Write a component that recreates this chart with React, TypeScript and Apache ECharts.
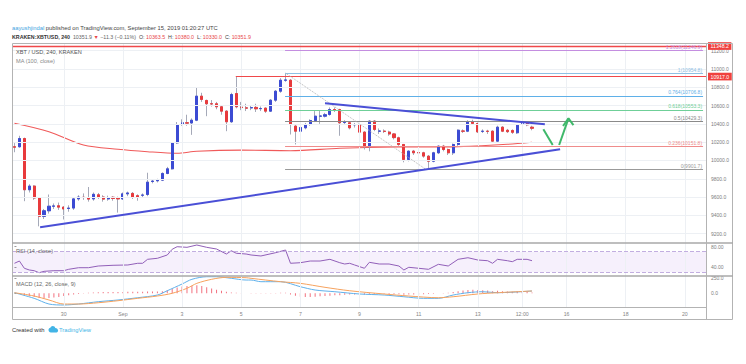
import React, { useEffect, useRef } from 'react';
import * as echarts from 'echarts';

// ---------------- data ----------------
const BAR_COUNT = 141;
const TIME_IDX = [10, 22, 34, 46, 58, 70, 82, 94, 103, 112, 124, 136];
const TIME_TEXT = ['30', 'Sep', '3', '5', '7', '9', '11', '13', '12:00', '16', '18', '20'];
const PRICE_TICKS = [9200, 9400, 9600, 9800, 10000, 10200, 10400, 10600, 10800, 11000, 11200];
const RSI_TICKS = [80, 40];
const MACD_TICKS = [250, 0];
const PRICE_RANGE = [9098, 11284];
const RSI_RANGE = [22.8, 86.9];
const MACD_RANGE = [-240, 283];

// [open, close, low, high] per 4h bar
const CANDLES: number[][] = [
  [10150, 10145, 10090, 10190], [10150, 10240, 10140, 10270], [10240, 9680, 9555, 10250], [9680, 9720, 9650, 9740],
  [9720, 9590, 9570, 9730], [9590, 9390, 9280, 9600], [9390, 9450, 9360, 9470], [9450, 9500, 9420, 9628],
  [9500, 9503, 9470, 9530], [9505, 9490, 9460, 9540], [9490, 9470, 9355, 9500], [9475, 9480, 9440, 9510],
  [9480, 9580, 9460, 9600], [9580, 9600, 9560, 9620], [9598, 9595, 9570, 9640], [9595, 9578, 9550, 9710],
  [9580, 9630, 9560, 9650], [9625, 9600, 9580, 9645], [9600, 9578, 9550, 9620], [9580, 9595, 9560, 9615],
  [9598, 9585, 9560, 9610], [9592, 9580, 9430, 9605], [9580, 9635, 9570, 9650], [9635, 9645, 9610, 9660],
  [9640, 9600, 9580, 9655], [9615, 9600, 9560, 9630], [9620, 9622, 9600, 9640], [9628, 9763, 9610, 9866],
  [9770, 9775, 9750, 9790], [9778, 9785, 9760, 9800], [9785, 9858, 9775, 9870], [9858, 9909, 9850, 9930],
  [9909, 10193, 9900, 10200], [10193, 10393, 10180, 10420], [10400, 10412, 10380, 10450], [10412, 10408, 10380, 10500],
  [10410, 10440, 10280, 10460], [10440, 10703, 10430, 10795], [10703, 10667, 10640, 10740], [10656, 10620, 10484, 10665],
  [10620, 10618, 10590, 10660], [10620, 10587, 10560, 10640], [10587, 10539, 10500, 10600], [10539, 10423, 10320, 10550],
  [10423, 10721, 10410, 10740], [10732, 10587, 10570, 10917], [10583, 10578, 10550, 10640], [10575, 10572, 10540, 10620],
  [10575, 10578, 10550, 10600], [10580, 10565, 10530, 10620], [10566, 10568, 10540, 10590], [10572, 10539, 10520, 10580],
  [10539, 10659, 10530, 10670], [10659, 10757, 10640, 10770], [10757, 10877, 10740, 10900], [10877, 10880, 10860, 10954.8],
  [10877, 10393, 10284, 10890], [10375, 10320, 10175, 10390], [10320, 10360, 10300, 10380], [10357, 10393, 10340, 10410],
  [10393, 10437, 10380, 10450], [10437, 10484, 10420, 10540], [10484, 10486, 10400, 10540], [10484, 10500, 10470, 10520],
  [10503, 10557, 10490, 10580], [10557, 10555, 10530, 10580], [10557, 10412, 10270, 10565], [10415, 10418, 10390, 10440],
  [10412, 10357, 10340, 10425], [10390, 10393, 10360, 10410], [10393, 10310, 10290, 10400], [10310, 10150, 10120, 10320],
  [10150, 10430, 10100, 10440], [10430, 10339, 10320, 10440], [10320, 10322, 10290, 10350], [10320, 10318, 10300, 10340],
  [10310, 10290, 10270, 10325], [10290, 10250, 10230, 10300], [10248, 10175, 10160, 10260], [10175, 10011, 9980, 10180],
  [10011, 10102, 9990, 10110], [10102, 10084, 10060, 10115], [10086, 10084, 9956, 10100], [10084, 10048, 10030, 10095],
  [10047, 9992, 9901.7, 10060], [9992, 10084, 9980, 10095], [10084, 10156, 10070, 10165], [10156, 10120, 10100, 10170],
  [10120, 10084, 10060, 10130], [10084, 10175, 10060, 10185], [10175, 10331, 10160, 10340], [10322, 10320, 10300, 10340],
  [10320, 10423, 10310, 10440], [10423, 10405, 10390, 10445], [10404, 10313, 10300, 10415], [10318, 10320, 10300, 10340],
  [10320, 10318, 10290, 10335], [10320, 10211, 10200, 10330], [10211, 10364, 10200, 10380], [10364, 10320, 10310, 10375],
  [10330, 10315, 10300, 10345], [10328, 10308, 10290, 10340], [10303, 10386, 10290, 10395], [10405, 10408, 10390, 10425],
  [10408, 10390, 10375, 10415], [10363.5, 10351.9, 10330, 10380],
];

const MA100: number[][] = [
  [0, 10407], [7, 10315], [14, 10169], [21, 10122], [27, 10096], [33, 10079], [37, 10101], [46, 10113],
  [56, 10107], [66, 10133], [78, 10148], [84, 10147], [90, 10151], [100, 10177], [105, 10199],
];

const RSI: number[][] = [
  [0, 47.5], [1, 51.9], [2, 37.8], [3, 34.5], [4, 33.1], [5, 29.2], [6, 31.9], [8, 33.1], [10, 33.1], [11, 35.8],
  [13, 38.9], [15, 38.9], [17, 42.2], [20, 43.6], [23, 44.2], [25, 47.5], [26, 47.5], [27, 55.2], [29, 57.2],
  [31, 63.6], [32, 74.7], [33, 79.7], [35, 78.5], [37, 83], [39, 78.5], [41, 75.2], [43, 65.5], [44, 71.9],
  [45, 66.9], [47, 65.5], [48, 63.6], [50, 61.7], [53, 68.1], [55, 73.3], [56, 47.5], [58, 48.6], [60, 51.9],
  [62, 51.9], [64, 55.2], [66, 48.6], [67, 46.1], [68, 47.5], [69, 44.2], [71, 37.8], [72, 49.4], [74, 46.1],
  [76, 46.1], [78, 42.2], [79, 34.5], [80, 39.7], [82, 37.8], [84, 35.8], [86, 45.5], [88, 42.2], [90, 55.2],
  [92, 58.3], [94, 53.9], [96, 52.5], [97, 47.5], [98, 55.2], [100, 52.5], [101, 50.6], [102, 55.2], [104, 55.2],
  [105, 52.5],
];

const MACD_LINE: number[][] = [
  [0, 10], [4, -82], [7, -175], [10, -191], [13, -175], [17, -137], [21, -109], [25, -72], [29, -28], [31, 42],
  [34, 152], [36, 229], [39, 271], [41, 271], [44, 245], [47, 217], [48, 217], [50, 190], [54, 190], [58, 108],
  [61, 54], [65, 26], [70, -11], [75, -28], [79, -56], [83, -82], [86, -82], [89, -28], [92, 10], [95, 26],
  [98, 10], [105, 38],
];
const MACD_SIGNAL: number[][] = [
  [0, 10], [4, -44], [7, -109], [10, -175], [13, -175], [17, -154], [21, -121], [25, -82], [29, -44], [32, 0],
  [35, 82], [37, 163], [40, 229], [43, 261], [47, 255], [48, 245], [54, 190], [58, 163], [63, 98], [68, 42],
  [75, -11], [80, -44], [86, -72], [89, -56], [94, -11], [98, 10], [105, 38],
];
const MACD_HIST: number[] = [
  0, -10, -30, -45, -60, -75, -80, -78, -70, -60, -45, -30, -20, -10,
  5, 10, 15, 18, 20, 20, 20, 20, 22, 25, 25, 25, 25, 28, 30, 30, 35,
  50, 70, 95, 110, 120, 125, 130, 120, 100, 80, 60, 40, 25, 15,
  10, 5, 0, -5, -5, 5, 5, 5, 5, 10, 10,
  -20, -40, -55, -60, -60, -55, -50, -45, -40, -30, -30,
  -25, -20, -20, -15, -20, -10, -10, -8, -8, -10, -12, -15, -22, -20, -18, -18, -15, -12, -8, 0, 5, 10,
  20, 35, 45, 55, 60, 55, 50, 45, 35, 40, 35, 30, 25, 25, 25, 20, 15,
];

// drawings (bar index, price)
const SUPPORT_LINE = [[5.2, 9270], [110.7, 10122]];
const RESIST_LINE = [[63.0, 10625], [107.6, 10396]];
const FIB_SWING = [[55, 10954.8], [83.5, 9901.7]];
const GREEN_DOWN = [[107.3, 10341], [109.2, 10169]];
const GREEN_UP = [[110.5, 10169], [112.4, 10461]];
const GREEN_HEAD = [[111.3, 10377], [112.4, 10461], [113.4, 10386]];
const FIB_RANGE = [54.9, 139.7];
const FIB_TEXT = ['1.2618(11246.9)', '1(10954.8)', '0.764(10706.8)', '0.618(10553.3)', '0.5(10429.3)', '0.236(10151.8)', '0(9901.7)'];
const FIB_PRICE = [11205, 10954.8, 10706.8, 10553.3, 10429.3, 10151.8, 9901.7];
const TOP_LINE_PRICE = 11251;
const TOP_BADGE = '11348.2';
const HIGH_LINE = [44.9, 10917];
const HIGH_BADGE = '10917.0';
const LAST_PRICE = 10351.9;
const LAST_BADGE = '10351.9';
const COUNTDOWN_PRICE = 10250;
const COUNTDOWN = '02:39:34';

// ---------------- styles ----------------
const FONT = 'Liberation Sans, Arial, sans-serif';
const UP = '#3c4bd3';
const DOWN = '#e83a3c';
const WICK = '#a5a9b8';
const GRID_LINE = '#edf0f4';
const FRAME = '#b3b3b3';
const FIB_COLORS = ['#c48ee0', '#8ec0e4', '#5fb0e8', '#6fcf98', '#8a8a8a', '#ef8c8c', '#9a9a9a'];
const BADGE_RED = '#f0403e';

function badge(text: string, bg: string) {
  return {
    show: true, position: 'end', distance: 1, formatter: text, color: '#fff', backgroundColor: bg,
    padding: [1, 2.5, 0.5, 2.5], lineHeight: 6.2, fontSize: 5.2, fontFamily: FONT,
  };
}

function buildOption() {
  const cats = Array.from({ length: BAR_COUNT }, (_, i) => String(i));
  const body = CANDLES.map(([o, c]) => [o, c, Math.min(o, c), Math.max(o, c)]);
  const vGrid = TIME_IDX.map((i) => ({ xAxis: i }));
  const hGrid = PRICE_TICKS.map((v) => ({ yAxis: v }));
  const gridMark = (data: any[]) => ({
    silent: true, symbol: 'none', animation: false, label: { show: false },
    lineStyle: { color: GRID_LINE, width: 1, type: 'solid' }, emphasis: { disabled: true }, data,
  });

  const fibMarks = FIB_TEXT.map((t, k) => [
    {
      coord: [FIB_RANGE[0], FIB_PRICE[k]],
      lineStyle: { color: FIB_COLORS[k], width: 1, type: 'solid' },
      label: { show: true, position: 'insideEndTop', formatter: t, color: FIB_COLORS[k], fontSize: 5, fontFamily: FONT, distance: 1 },
    },
    { coord: [FIB_RANGE[1], FIB_PRICE[k]] },
  ]);

  const labelIdx = (i: number) => TIME_IDX.indexOf(i) >= 0;

  return {
    animation: false,
    backgroundColor: '#ffffff',
    grid: [
      { left: 12, top: 43, width: 695, height: 200 },
      { left: 12, top: 243, width: 695, height: 33 },
      { left: 12, top: 276, width: 695, height: 32 },
    ],
    xAxis: [
      { type: 'category', gridIndex: 0, data: cats, show: false },
      { type: 'value', gridIndex: 0, min: -0.5, max: BAR_COUNT - 0.5, show: false },
      { type: 'value', gridIndex: 1, min: -0.5, max: BAR_COUNT - 0.5, show: false },
      {
        type: 'category', gridIndex: 2, data: cats, position: 'bottom',
        axisLine: { show: false },
        axisTick: { show: true, alignWithLabel: true, interval: (i: number) => labelIdx(i), length: 2, lineStyle: { color: '#999' } },
        axisLabel: {
          interval: (i: number) => labelIdx(i),
          formatter: (_v: string, i: number) => TIME_TEXT[TIME_IDX.indexOf(i)] ?? '',
          fontSize: 5.2, color: '#858585', fontFamily: FONT, margin: 3,
        },
        splitLine: { show: false },
      },
      { type: 'value', gridIndex: 2, min: -0.5, max: BAR_COUNT - 0.5, show: false },
    ],
    yAxis: [
      {
        type: 'value', gridIndex: 0, position: 'right', min: PRICE_RANGE[0], max: PRICE_RANGE[1], scale: true,
        axisLine: { show: false }, splitLine: { show: false },
        axisTick: { show: true, length: 2, customValues: PRICE_TICKS, lineStyle: { color: '#999' } },
        axisLabel: { customValues: PRICE_TICKS, formatter: (v: number) => v.toFixed(1), fontSize: 5, color: '#7d7d7d', fontFamily: FONT, margin: 4 },
      },
      {
        type: 'value', gridIndex: 1, position: 'right', min: RSI_RANGE[0], max: RSI_RANGE[1], scale: true,
        axisLine: { show: false }, splitLine: { show: false },
        axisTick: { show: true, length: 2, customValues: RSI_TICKS, lineStyle: { color: '#999' } },
        axisLabel: { customValues: RSI_TICKS, formatter: (v: number) => v.toFixed(2), fontSize: 5, color: '#7d7d7d', fontFamily: FONT, margin: 4 },
      },
      {
        type: 'value', gridIndex: 2, position: 'right', min: MACD_RANGE[0], max: MACD_RANGE[1], scale: true,
        axisLine: { show: false }, splitLine: { show: false },
        axisTick: { show: true, length: 2, customValues: MACD_TICKS, lineStyle: { color: '#999' } },
        axisLabel: { customValues: MACD_TICKS, formatter: (v: number) => v.toFixed(1), fontSize: 5, color: '#7d7d7d', fontFamily: FONT, margin: 4 },
      },
    ],
    series: [
      { type: 'line', xAxisIndex: 1, yAxisIndex: 0, data: [], z: 1, silent: true, markLine: gridMark([...vGrid, ...hGrid]) },
      { type: 'line', xAxisIndex: 2, yAxisIndex: 1, data: [], z: 1, silent: true, markLine: gridMark(vGrid) },
      { type: 'line', xAxisIndex: 4, yAxisIndex: 2, data: [], z: 1, silent: true, markLine: gridMark(vGrid) },
      // MA 100
      {
        type: 'line', xAxisIndex: 1, yAxisIndex: 0, data: MA100, smooth: 0.3, symbol: 'none', silent: true, z: 2,
        lineStyle: { color: '#f05a5a', width: 1.1 },
      },
      // fib + horizontal lines + badges
      {
        type: 'line', xAxisIndex: 1, yAxisIndex: 0, data: [], z: 2, silent: true,
        markLine: {
          silent: true, symbol: 'none', animation: false, emphasis: { disabled: true },
          data: [
            ...fibMarks,
            { yAxis: TOP_LINE_PRICE, lineStyle: { color: '#f0484a', width: 1.4, type: 'solid' }, label: badge(TOP_BADGE, BADGE_RED) },
            [
              { coord: [HIGH_LINE[0], HIGH_LINE[1]], lineStyle: { color: '#f0484a', width: 1.2, type: 'solid' }, label: badge(HIGH_BADGE, BADGE_RED) },
              { coord: [BAR_COUNT - 0.5, HIGH_LINE[1]] },
            ],
            { yAxis: LAST_PRICE, lineStyle: { opacity: 0 }, label: badge(LAST_BADGE, BADGE_RED) },
            { yAxis: COUNTDOWN_PRICE, lineStyle: { opacity: 0 }, label: badge(COUNTDOWN, '#e2463f') },
          ],
        },
      },
      // candles: wicks then bodies
      {
        type: 'candlestick', xAxisIndex: 0, yAxisIndex: 0, data: CANDLES, barWidth: 2.6, silent: true, z: 3,
        itemStyle: { color: 'rgba(0,0,0,0)', color0: 'rgba(0,0,0,0)', borderColor: WICK, borderColor0: WICK, borderWidth: 1 },
      },
      {
        type: 'candlestick', xAxisIndex: 0, yAxisIndex: 0, data: body, barWidth: 2.6, silent: true, z: 4,
        itemStyle: { color: UP, color0: DOWN, borderColor: UP, borderColor0: DOWN, borderWidth: 1 },
      },
      // drawings
      { type: 'line', xAxisIndex: 1, yAxisIndex: 0, data: FIB_SWING, symbol: 'none', silent: true, z: 5, lineStyle: { color: '#b5b5b5', width: 1, type: 'dotted' } },
      { type: 'line', xAxisIndex: 1, yAxisIndex: 0, data: SUPPORT_LINE, symbol: 'none', silent: true, z: 6, lineStyle: { color: '#4a4fd6', width: 2 } },
      { type: 'line', xAxisIndex: 1, yAxisIndex: 0, data: RESIST_LINE, symbol: 'none', silent: true, z: 6, lineStyle: { color: '#4a4fd6', width: 2 } },
      { type: 'line', xAxisIndex: 1, yAxisIndex: 0, data: GREEN_DOWN, symbol: 'none', silent: true, z: 6, lineStyle: { color: '#3fb86a', width: 2 } },
      { type: 'line', xAxisIndex: 1, yAxisIndex: 0, data: GREEN_UP, symbol: 'none', silent: true, z: 6, lineStyle: { color: '#3fb86a', width: 2 } },
      { type: 'line', xAxisIndex: 1, yAxisIndex: 0, data: GREEN_HEAD, symbol: 'none', silent: true, z: 6, lineStyle: { color: '#3fb86a', width: 2 } },
      // RSI
      {
        type: 'line', xAxisIndex: 2, yAxisIndex: 1, data: RSI, symbol: 'none', silent: true, z: 3,
        lineStyle: { color: '#915fb8', width: 1 },
        markArea: { silent: true, itemStyle: { color: 'rgba(150, 90, 225, 0.09)' }, data: [[{ yAxis: 30 }, { yAxis: 70 }]] },
        markLine: {
          silent: true, symbol: 'none', label: { show: false }, animation: false,
          lineStyle: { color: '#c2aee0', width: 1, type: 'dashed' }, data: [{ yAxis: 70 }, { yAxis: 30 }],
        },
      },
      // MACD
      {
        type: 'bar', xAxisIndex: 3, yAxisIndex: 2, data: MACD_HIST, barWidth: 1, silent: true, z: 2,
        itemStyle: { color: '#f2707e' },
      },
      { type: 'line', xAxisIndex: 4, yAxisIndex: 2, data: MACD_LINE, smooth: 0.3, symbol: 'none', silent: true, z: 3, lineStyle: { color: '#5fb0ea', width: 1 } },
      { type: 'line', xAxisIndex: 4, yAxisIndex: 2, data: MACD_SIGNAL, smooth: 0.3, symbol: 'none', silent: true, z: 3, lineStyle: { color: '#f6a25e', width: 1 } },
    ],
    graphic: [
      { type: 'rect', z: 100, silent: true, shape: { x: 12.5, y: 43.5, width: 720, height: 276 }, style: { fill: 'none', stroke: FRAME, lineWidth: 1 } },
      { type: 'line', z: 100, silent: true, shape: { x1: 12, y1: 243, x2: 733, y2: 243 }, style: { stroke: '#a9a9a9', lineWidth: 1.5 } },
      { type: 'line', z: 100, silent: true, shape: { x1: 12, y1: 276, x2: 733, y2: 276 }, style: { stroke: '#a9a9a9', lineWidth: 1.5 } },
      { type: 'line', z: 100, silent: true, shape: { x1: 12, y1: 307.5, x2: 707, y2: 307.5 }, style: { stroke: FRAME, lineWidth: 1 } },
      { type: 'line', z: 100, silent: true, shape: { x1: 706.5, y1: 43, x2: 706.5, y2: 320 }, style: { stroke: FRAME, lineWidth: 1 } },
      {
        type: 'text', z: 100, silent: true, x: 12, y: 28,
        style: {
          text: '{u|aayushjindal}{t| published on TradingView.com, September 15, 2019 01:20:27 UTC}',
          verticalAlign: 'middle', fontSize: 5.8, fontFamily: FONT,
          rich: {
            u: { fill: '#3d9fe0', color: '#3d9fe0', fontSize: 5.8, fontFamily: FONT },
            t: { fill: '#444', color: '#444', fontSize: 5.8, fontFamily: FONT },
          },
        },
      },
      {
        type: 'text', z: 100, silent: true, x: 12, y: 37,
        style: {
          text: '{b|KRAKEN:XBTUSD, 240}{g|  10351.9 }{r|▼}{g| −11.3 (−0.11%)  }{k|O:}{r| 10363.5  }{k|H:}{r| 10380.0  }{k|L:}{r| 10330.0  }{k|C:}{r| 10351.9}',
          verticalAlign: 'middle', fontSize: 5.3, fontFamily: FONT,
          rich: {
            b: { fill: '#333', color: '#333', fontWeight: 'bold', fontSize: 5.3, fontFamily: FONT },
            g: { fill: '#666', color: '#666', fontSize: 5.3, fontFamily: FONT },
            r: { fill: '#e8474a', color: '#e8474a', fontSize: 5.3, fontFamily: FONT },
            k: { fill: '#444', color: '#444', fontSize: 5.3, fontFamily: FONT },
          },
        },
      },
      { type: 'text', z: 100, silent: true, x: 16, y: 52.3, style: { text: 'XBT / USD, 240, KRAKEN', fill: '#555', fontSize: 5.6, fontFamily: FONT, verticalAlign: 'middle' } },
      { type: 'text', z: 100, silent: true, x: 16, y: 60.5, style: { text: 'MA (100, close)', fill: '#888', fontSize: 5.6, fontFamily: FONT, verticalAlign: 'middle' } },
      { type: 'text', z: 100, silent: true, x: 16, y: 251, style: { text: 'RSI (14, close)', fill: '#666', fontSize: 5.6, fontFamily: FONT, verticalAlign: 'middle' } },
      { type: 'text', z: 100, silent: true, x: 16, y: 283.5, style: { text: 'MACD (12, 26, close, 9)', fill: '#666', fontSize: 5.6, fontFamily: FONT, verticalAlign: 'middle' } },
      { type: 'text', z: 100, silent: true, x: 12, y: 329.5, style: { text: 'Created with', fill: '#333', fontSize: 5.8, fontFamily: FONT, verticalAlign: 'middle' } },
      { type: 'tvcloud', z: 100, silent: true, x: 48.5, y: 326, scaleX: 0.4, scaleY: 0.4, style: { fill: '#42b4e6' } },
      { type: 'text', z: 100, silent: true, x: 59, y: 329.5, style: { text: 'TradingView', fill: '#42b4e6', fontSize: 5.8, fontFamily: FONT, verticalAlign: 'middle' } },
    ],
  };
}

let registered = false;
function registerShapes() {
  if (registered) return;
  registered = true;
  echarts.graphic.registerShape(
    'tvcloud',
    echarts.graphic.extendPath(
      'M6 16C2.7 16 0 13.3 0 10C0 7.2 2 4.8 4.7 4.2C5.6 1.8 7.9 0 10.7 0C13.8 0 16.4 2.2 17 5.1C20.9 5.3 24 8.3 24 12.1C24 14.3 22.3 16 20.2 16Z',
      {}
    ) as any
  );
}

export default function App() {
  const ref = useRef<HTMLDivElement>(null);
  useEffect(() => {
    registerShapes();
    const chart = echarts.init(ref.current as HTMLDivElement, null, { renderer: 'svg' });
    chart.setOption(buildOption() as any);
    return () => chart.dispose();
  }, []);
  return (
    <div
      ref={ref}
      style={{ position: 'fixed', left: 0, top: 0, width: 746, height: 364, background: '#fff' }}
    />
  );
}
